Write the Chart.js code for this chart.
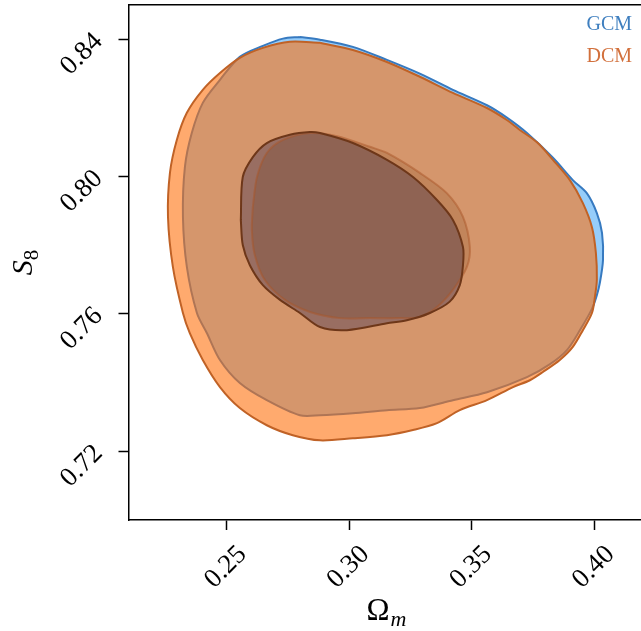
<!DOCTYPE html>
<html>
<head>
<meta charset="utf-8">
<script src="https://cdn.jsdelivr.net/npm/chart.js@4.4.1/dist/chart.umd.min.js"></script>
<style>
    body { margin: 0; background: #fff; }
</style>
</head>
<body>
<canvas id="chart" width="641" height="631"></canvas>
<script>
var xTicks = [0.25, 0.30, 0.35, 0.40];
var yTicks = [0.72, 0.76, 0.80, 0.84];
var legendNames = ['GCM', 'DCM'];

// contour outlines as [Omega_m, S8] pairs
var gcm95 = [[0.2799,0.8407],[0.2881,0.8399],[0.3015,0.8378],[0.3154,0.8340],[0.3288,0.8300],[0.3423,0.8253],
    [0.3562,0.8208],[0.3643,0.8172],[0.3725,0.8127],[0.3831,0.8055],[0.3912,0.7990],[0.3969,0.7952],[0.4010,0.7894],
    [0.4031,0.7836],[0.4035,0.7757],[0.4022,0.7690],[0.4010,0.7655],[0.3990,0.7615],[0.3941,0.7553],[0.3888,0.7495],
    [0.3819,0.7454],[0.3725,0.7416],[0.3562,0.7372],[0.3423,0.7349],[0.3288,0.7326],[0.3154,0.7320],[0.3015,0.7311],
    [0.2881,0.7305],[0.2799,0.7305],[0.2664,0.7349],[0.2554,0.7399],[0.2473,0.7466],[0.2420,0.7544],[0.2379,0.7603],
    [0.2338,0.7737],[0.2322,0.7883],[0.2330,0.8028],[0.2358,0.8127],[0.2403,0.8215],[0.2473,0.8282],[0.2554,0.8349],
    [0.2648,0.8381],[0.2730,0.8402],[0.2799,0.8407]];

var gcm68 = [[0.2558,0.7874],[0.2566,0.7999],[0.2607,0.8057],[0.2664,0.8098],[0.2758,0.8122],[0.2840,0.8130],
    [0.2881,0.8127],[0.3015,0.8098],[0.3154,0.8049],[0.3260,0.7999],[0.3358,0.7932],[0.3423,0.7874],[0.3464,0.7795],
    [0.3464,0.7742],[0.3451,0.7684],[0.3410,0.7636],[0.3329,0.7603],[0.3235,0.7582],[0.3154,0.7573],[0.2991,0.7553],
    [0.2881,0.7562],[0.2799,0.7603],[0.2718,0.7641],[0.2648,0.7684],[0.2595,0.7742],[0.2566,0.7801],[0.2558,0.7874]];

var dcm95 = [[0.2881,0.8390],[0.3015,0.8369],[0.3154,0.8334],[0.3288,0.8291],[0.3423,0.8244],[0.3562,0.8200],
    [0.3643,0.8165],[0.3696,0.8136],[0.3766,0.8100],[0.3831,0.8049],[0.3900,0.7990],[0.3953,0.7923],[0.3990,0.7853],
    [0.4006,0.7778],[0.4010,0.7700],[0.4002,0.7650],[0.3990,0.7603],[0.3953,0.7553],[0.3912,0.7504],[0.3859,0.7466],
    [0.3790,0.7431],[0.3737,0.7407],[0.3668,0.7387],[0.3562,0.7349],[0.3451,0.7320],[0.3358,0.7282],[0.3260,0.7262],
    [0.3154,0.7247],[0.3015,0.7238],[0.2881,0.7232],[0.2770,0.7247],[0.2664,0.7276],[0.2554,0.7326],[0.2473,0.7387],
    [0.2403,0.7466],[0.2350,0.7544],[0.2322,0.7603],[0.2281,0.7737],[0.2261,0.7883],[0.2269,0.8011],[0.2297,0.8107],
    [0.2338,0.8186],[0.2403,0.8253],[0.2473,0.8302],[0.2554,0.8346],[0.2648,0.8375],[0.2758,0.8393],[0.2881,0.8390]];

var dcm68 = [[0.2607,0.7912],[0.2624,0.7999],[0.2664,0.8069],[0.2730,0.8107],[0.2840,0.8127],[0.2950,0.8118],
    [0.3084,0.8087],[0.3154,0.8069],[0.3288,0.8011],[0.3398,0.7952],[0.3464,0.7883],[0.3492,0.7795],[0.3480,0.7737],
    [0.3423,0.7670],[0.3358,0.7620],[0.3288,0.7591],[0.3207,0.7588],[0.3084,0.7588],[0.2962,0.7588],[0.2840,0.7606],
    [0.2738,0.7641],[0.2656,0.7699],[0.2615,0.7772],[0.2603,0.7845],[0.2607,0.7912]];

var serif = '"Liberation Serif", "DejaVu Serif", serif';

function toPoints(arr) {
    return arr.map(function (p) { return { x: p[0], y: p[1] }; });
}

function contour(data, fillColor, lineColor, lineWidth, order) {
    return {
        data: toPoints(data),
        showLine: true,
        fill: fillColor ? 'shape' : false,
        backgroundColor: fillColor || 'rgba(0,0,0,0)',
        borderColor: lineColor || 'rgba(0,0,0,0)',
        borderWidth: lineWidth,
        pointRadius: 0,
        pointHoverRadius: 0,
        tension: 0.3,
        order: order
    };
}

// legend + axis titles (subscripts need manual drawing)
var textPlugin = {
    id: 'texts',
    afterDraw: function (chart) {
        var ctx = chart.ctx;
        ctx.save();
        ctx.textBaseline = 'alphabetic';

        ctx.textAlign = 'right';
        ctx.font = '20px ' + serif;
        ctx.fillStyle = '#3f7fbf';
        ctx.fillText(legendNames[0], 632, 30);
        ctx.fillStyle = '#d2703c';
        ctx.fillText(legendNames[1], 632, 62);

        ctx.fillStyle = '#000';
        ctx.textAlign = 'left';
        var big = '31px ' + serif, small = 'italic 22px ' + serif;
        ctx.font = big;
        var w1 = ctx.measureText('Ω').width;
        ctx.font = small;
        var w2 = ctx.measureText('m').width;
        var cx = chart.scales.x.getPixelForValue(0.315);
        var x0 = cx - (w1 + w2) / 2;
        ctx.font = big;
        ctx.fillText('Ω', x0, 620);
        ctx.font = small;
        ctx.fillText('m', x0 + w1 + 1, 626);

        var cy = chart.scales.y.getPixelForValue(0.775);
        ctx.translate(32, cy);
        ctx.rotate(-Math.PI / 2);
        var sFont = 'italic 30px ' + serif, nFont = '21px ' + serif;
        ctx.font = sFont;
        var s1 = ctx.measureText('S').width;
        ctx.font = nFont;
        var s2 = ctx.measureText('8').width;
        var sx = -(s1 + s2) / 2;
        ctx.font = sFont;
        ctx.fillText('S', sx, 0);
        ctx.font = nFont;
        ctx.fillText('8', sx + s1, 6);
        ctx.restore();
    }
};

var tickFont = { family: serif, size: 27 };

var ctx = document.getElementById('chart').getContext('2d');
var chart = new Chart(ctx, {
    type: 'scatter',
    data: {
        datasets: [
            contour(gcm95, 'rgb(150,205,250)', 'rgb(55,122,192)', 2, 5),
            contour(gcm68, 'rgb(0,105,225)', null, 0, 4),
            contour(dcm95, 'rgba(255,113,13,0.6)', 'rgb(192,98,38)', 2, 3),
            contour(dcm68, 'rgba(90,40,0,0.15)', 'rgba(170,85,40,0.5)', 2, 2),
            contour(gcm68, null, 'rgb(110,55,25)', 2, 1)
        ]
    },
    options: {
        responsive: false,
        animation: false,
        devicePixelRatio: 1,
        layout: { autoPadding: false, padding: { top: 5, left: 0, right: 0, bottom: 0 } },
        plugins: {
            legend: { display: false },
            tooltip: { enabled: false }
        },
        scales: {
            x: {
                type: 'linear',
                position: 'bottom',
                min: 0.21,
                max: 0.419,
                afterBuildTicks: function (axis) {
                    axis.ticks = xTicks.map(function (v) { return { value: v }; });
                },
                afterFit: function (axis) {
                    axis.height = 111;
                    axis.paddingLeft = 0;
                    axis.paddingRight = 0;
                },
                grid: { drawOnChartArea: false, drawTicks: true, tickLength: 10, tickWidth: 1.5, tickColor: '#000' },
                border: { display: true, color: '#000', width: 1.5 },
                ticks: {
                    minRotation: 45, maxRotation: 45, labelOffset: 16, padding: 9,
                    font: tickFont, color: '#000',
                    callback: function (v) { return v.toFixed(2); }
                }
            },
            xTop: {
                type: 'linear',
                position: 'top',
                min: 0.21,
                max: 0.419,
                afterFit: function (axis) {
                    axis.height = 0;
                    axis.paddingLeft = 0;
                    axis.paddingRight = 0;
                },
                grid: { drawOnChartArea: false, drawTicks: false },
                border: { display: true, color: '#000', width: 1.5 },
                ticks: { display: false }
            },
            y: {
                type: 'linear',
                min: 0.70,
                max: 0.85,
                afterBuildTicks: function (axis) {
                    axis.ticks = yTicks.map(function (v) { return { value: v }; });
                },
                afterFit: function (axis) {
                    axis.width = 128.5;
                    axis.paddingTop = 0;
                    axis.paddingBottom = 0;
                },
                grid: { drawOnChartArea: false, drawTicks: true, tickLength: 10, tickWidth: 1.5, tickColor: '#000' },
                border: { display: true, color: '#000', width: 1.5 },
                ticks: {
                    minRotation: 45, maxRotation: 45, labelOffset: -2, padding: 20,
                    font: tickFont, color: '#000',
                    callback: function (v) { return v.toFixed(2); }
                }
            }
        }
    },
    plugins: [textPlugin]
});
</script>
</body>
</html>
